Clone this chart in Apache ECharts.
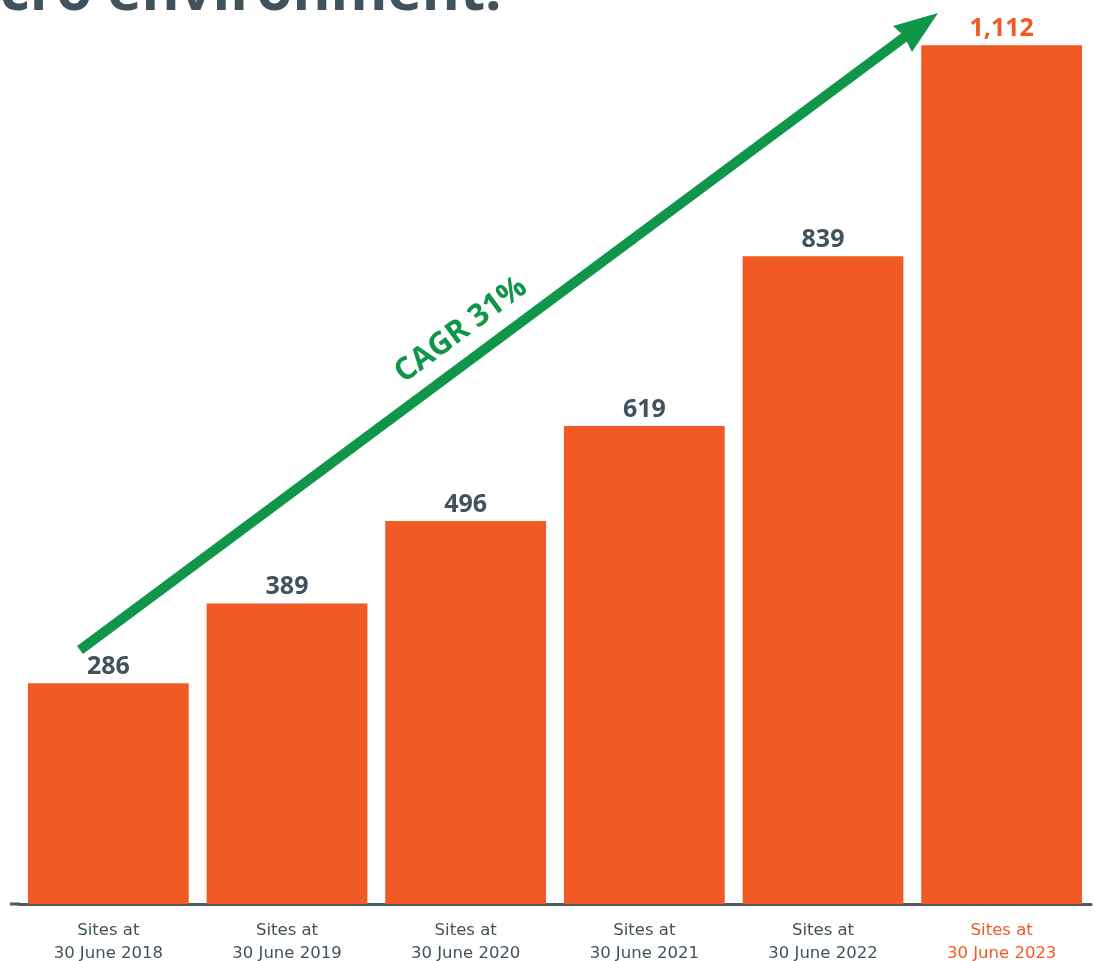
<!DOCTYPE html>
<html>
<head>
<meta charset="utf-8">
<script src="https://cdn.jsdelivr.net/npm/echarts@6/dist/echarts.min.js"></script>
<style>
html,body{margin:0;padding:0;background:#fff;}
#chart{width:1095px;height:961px;}
</style>
</head>
<body>
<div id="chart"></div>
<script>
var categories = ['Sites at\n30 June 2018','Sites at\n30 June 2019','Sites at\n30 June 2020','Sites at\n30 June 2021','Sites at\n30 June 2022','Sites at\n30 June 2023'];
var sites = [286, 389, 496, 619, 839, 1112];
var titleText = 'cro environment.';
var cagrText = 'CAGR 31%';

var ORANGE = '#F15A24';
var SLATE = '#42525C';
var GREEN = '#0F964A';
var lastIdx = sites.length - 1;

var chart = echarts.init(document.getElementById('chart'));
chart.setOption({
  animation: false,
  backgroundColor: '#ffffff',
  grid: {left: 19, right: 4, top: 16, bottom: 57, containLabel: false, outerBoundsMode: 'none'},
  xAxis: {
    type: 'category',
    data: categories,
    axisTick: {show: false},
    axisLine: {show: true, lineStyle: {color: '#4A5962', width: 3}},
    axisLabel: {
      interval: 0,
      margin: 15,
      fontFamily: 'DejaVu Sans',
      fontSize: 16.5,
      lineHeight: 23,
      color: function (v, i) { return i === lastIdx ? ORANGE : SLATE; }
    }
  },
  yAxis: {type: 'value', min: 0, max: 1150, show: false, splitLine: {show: false}},
  series: [{
    type: 'bar',
    barWidth: '90%',
    itemStyle: {color: ORANGE},
    data: sites.map(function (v, i) {
      return {value: v, label: {color: i === lastIdx ? ORANGE : SLATE}};
    }),
    label: {
      show: true,
      position: 'top',
      distance: 4,
      fontFamily: 'Open Sans',
      fontWeight: 'bold',
      fontSize: 25,
      formatter: function (p) { return p.value.toLocaleString('en-US'); }
    }
  }],
  graphic: [
    {type: 'rect', shape: {x: 10, y: 902.5, width: 10, height: 3}, style: {fill: '#4A5962'}},
    {type: 'text', x: 0, y: -7, style: {text: titleText, fill: SLATE, font: 'bold 58px "Open Sans"', textAlign: 'left', textVerticalAlign: 'middle'}},
    {type: 'line', shape: {x1: 80, y1: 650, x2: 906, y2: 36}, style: {stroke: GREEN, lineWidth: 10}},
    {type: 'polygon', shape: {points: [[938, 13], [893, 26], [904, 36], [912, 52]]}, style: {fill: GREEN}},
    {type: 'text', x: 461, y: 330, rotation: 0.639, style: {text: cagrText, fill: GREEN, font: 'bold 31px "Open Sans"', textAlign: 'center', textVerticalAlign: 'middle'}}
  ]
});
</script>
</body>
</html>
